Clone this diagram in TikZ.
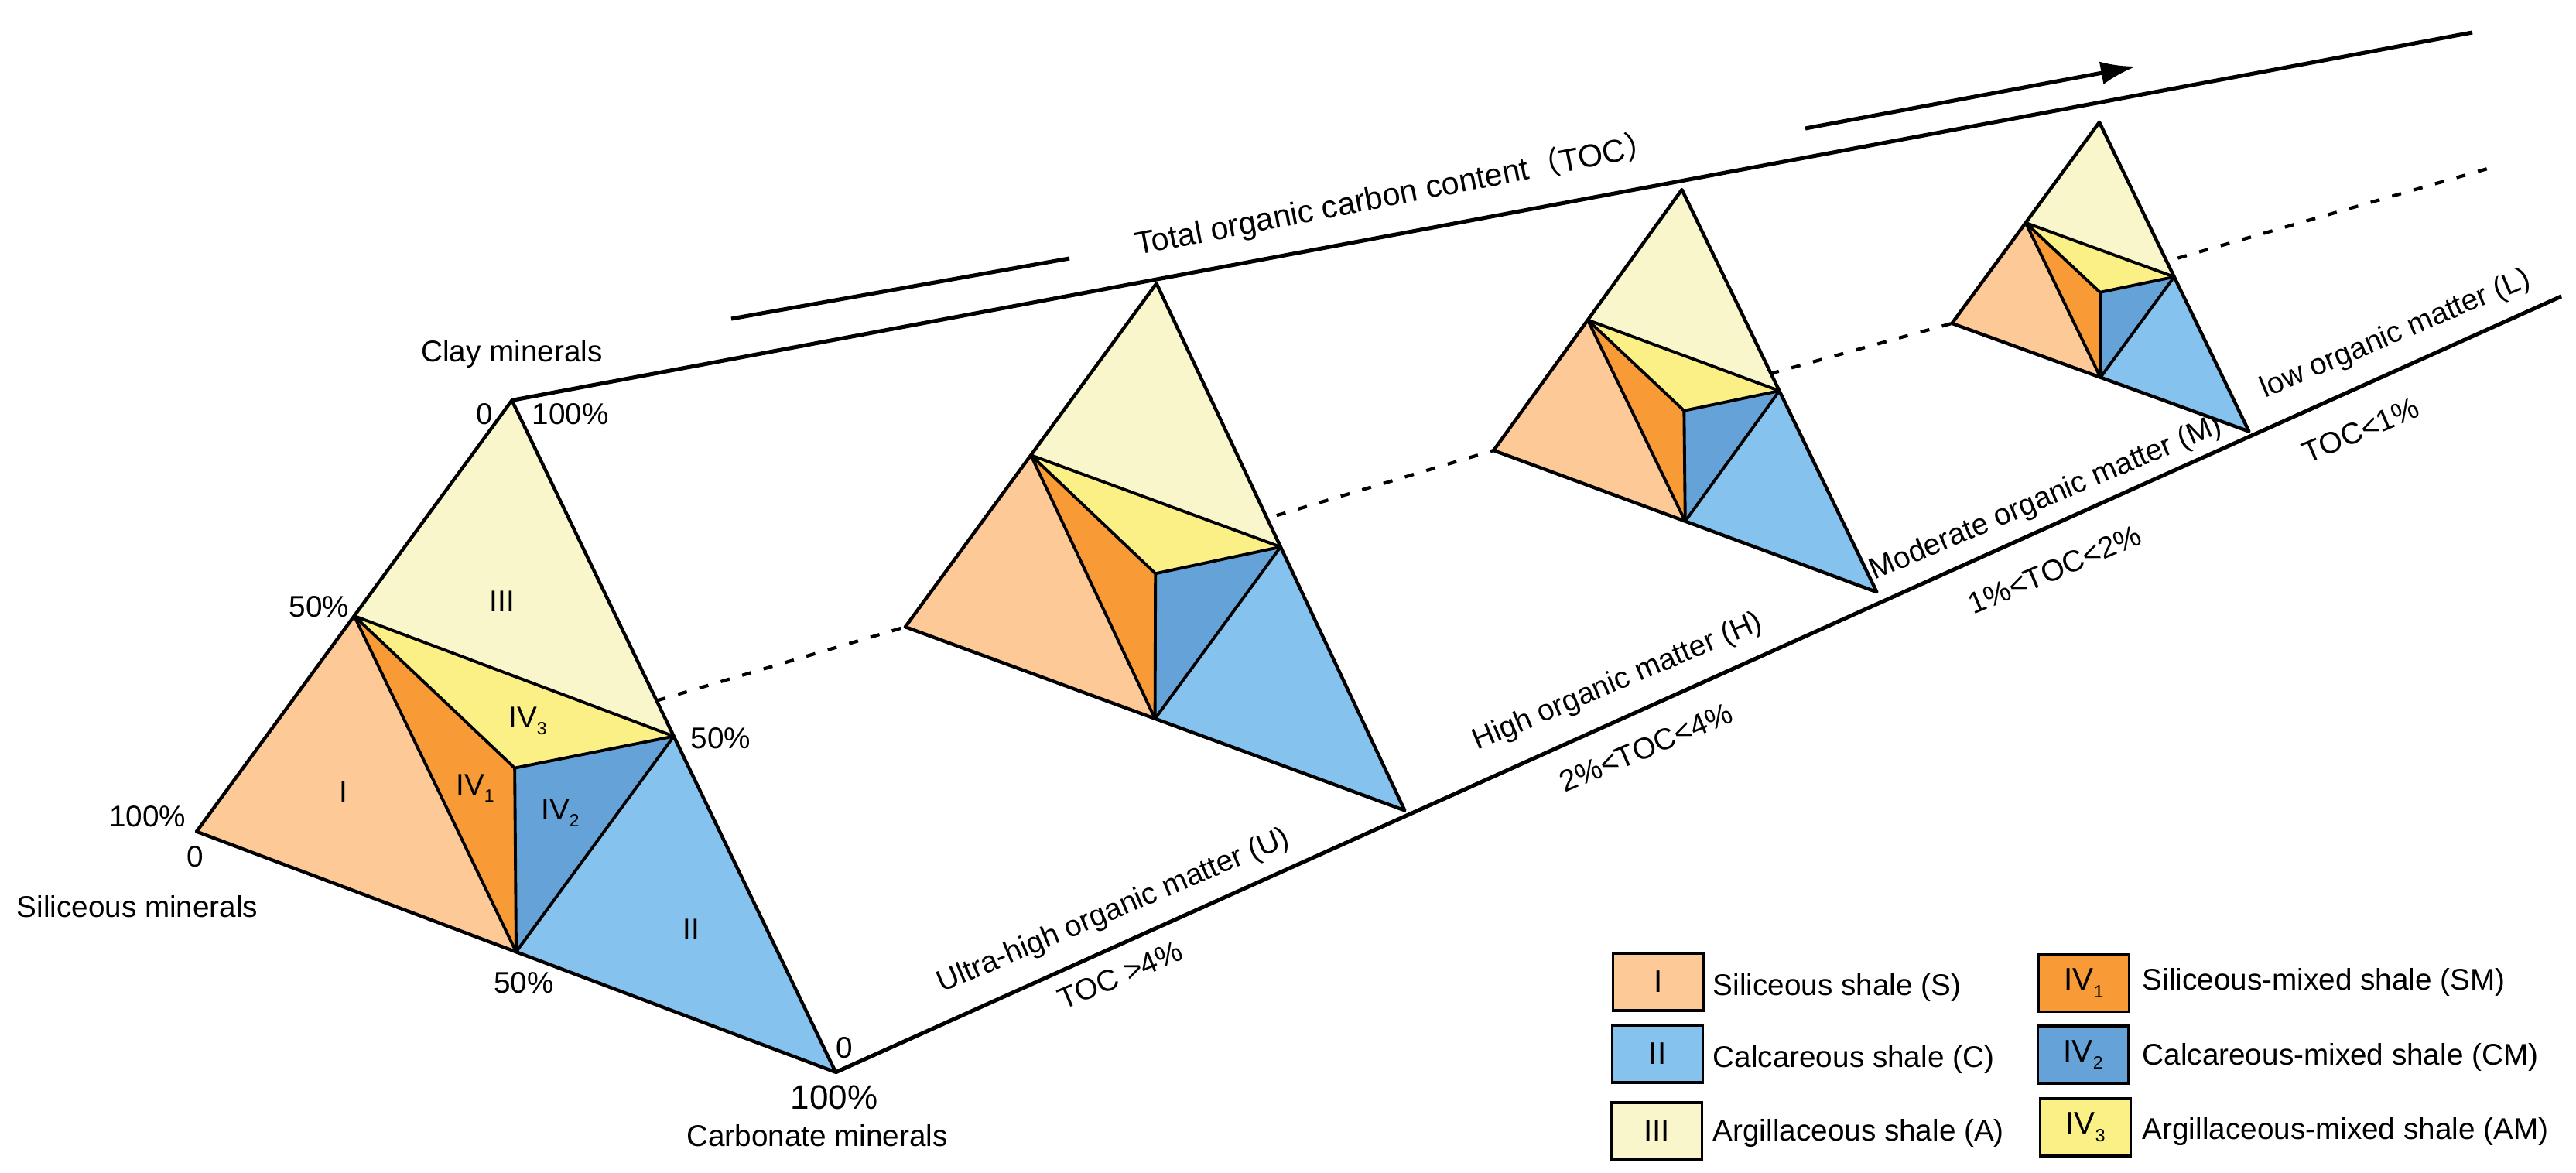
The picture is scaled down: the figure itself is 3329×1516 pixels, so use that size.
\documentclass[tikz,border=0pt]{standalone}
\usepackage{fontspec}
\setmainfont{Liberation Sans}
\newfontfamily\cjk{Noto Sans CJK SC}
\usetikzlibrary{calc,arrows.meta}
\definecolor{cI}{HTML}{FDC996}
\definecolor{cII}{HTML}{85C2EE}
\definecolor{cIII}{HTML}{FAF6CC}
\definecolor{cIVa}{HTML}{F89A36}
\definecolor{cIVb}{HTML}{65A2D7}
\definecolor{cIVc}{HTML}{FAF085}
\newcommand\ivs[1]{IV\raisebox{-0.45ex}{\fontsize{6.5}{7}\selectfont #1}}
\newcommand\shaletri[1]{%
  \coordinate (#1ml) at ($(#1t)!0.5!(#1l)$);
  \coordinate (#1mr) at ($(#1t)!0.5!(#1r)$);
  \coordinate (#1mb) at ($(#1l)!0.5!(#1r)$);
  \coordinate (#1c) at (barycentric cs:#1t=1,#1l=1,#1r=1);
  \fill[cIII] (#1t) -- (#1ml) -- (#1mr) -- cycle;
  \fill[cI] (#1ml) -- (#1l) -- (#1mb) -- cycle;
  \fill[cII] (#1mr) -- (#1mb) -- (#1r) -- cycle;
  \fill[cIVa] (#1ml) -- (#1c) -- (#1mb) -- cycle;
  \fill[cIVb] (#1c) -- (#1mr) -- (#1mb) -- cycle;
  \fill[cIVc] (#1ml) -- (#1mr) -- (#1c) -- cycle;
  \draw[inedge] (#1ml) -- (#1mr) -- (#1mb) -- cycle;
  \draw[inedge] (#1ml) -- (#1c) (#1mr) -- (#1c) (#1mb) -- (#1c);
  \draw[edge] (#1t) -- (#1l) -- (#1r) -- cycle;
}
\begin{document}
\begin{tikzpicture}[x=0.01cm,y=-0.01cm,
  lbl/.style={font=\fontsize{11}{13}\selectfont, inner sep=0pt},
  edge/.style={line width=1.25pt, line join=round},
  inedge/.style={line width=1.1pt, line join=round},
  longline/.style={line width=1.45pt},
  dotl/.style={line width=1.2pt, dash pattern=on 3.4pt off 4.8pt},
  legbox/.style={draw, line width=0.9pt, minimum width=1.17cm, minimum height=0.74cm, inner sep=0pt, font=\fontsize{11.5}{13}\selectfont},
  rlbl/.style={lbl, anchor=base west, rotate=23},
  legtxt/.style={lbl, anchor=base west}]
\useasboundingbox (0,0) rectangle (3329,1516);

% triangle vertices
\coordinate (T1t) at (661.5,517.4);
\coordinate (T1l) at (254,1074.7);
\coordinate (T1r) at (1080,1385.8);
\coordinate (T2t) at (1494.5,366.3);
\coordinate (T2l) at (1169.9,810.2);
\coordinate (T2r) at (1815.3,1047.4);
\coordinate (T3t) at (2173.5,245.1);
\coordinate (T3l) at (1930.2,582.1);
\coordinate (T3r) at (2425.4,765.2);
\coordinate (T4t) at (2713,158);
\coordinate (T4l) at (2522.5,417.9);
\coordinate (T4r) at (2906.4,557.6);

% dotted guide line (behind triangles)
\coordinate (dstart) at ($(T1t)!0.447!(T1r)$);
\coordinate (dend) at (3225,215);
\draw[dotl] (dstart) -- (T2l) -- (T3l) -- (T4l) -- (dend);

\shaletri{T1}
\shaletri{T2}
\shaletri{T3}
\shaletri{T4}

% long lines
\coordinate (topend) at (3195,42);
\coordinate (botend) at (3310,383);
\draw[longline] (T1t) -- (topend);
\draw[longline] (T1r) -- (botend);
\coordinate (sl1) at (945,412);
\coordinate (sl2) at (1382,334);
\draw[longline] (sl1) -- (sl2);
\coordinate (ar1) at (2333,166);
\coordinate (ar2) at (2760,86);
\draw[longline, -{Latex[length=0.45cm,width=0.3cm]}] (ar1) -- (ar2);
\node[lbl, font=\fontsize{11.7}{14}\selectfont, anchor=base west, rotate=11] (toc) at (1470,330) {Total organic carbon content{\cjk （}TOC{\cjk ）}};

% triangle 1 labels
\node[lbl] (clay) at (661.5,458) {Clay minerals};
\node[lbl] (c0) at (626,535) {0};
\node[lbl] (c100) at (737,535) {100\%};
\node[lbl] (l50) at (412.5,784) {50\%};
\node[lbl] (r50) at (931.6,954) {50\%};
\node[lbl] (s100) at (190.8,1055) {100\%};
\node[lbl] (s0) at (252.5,1107) {0};
\node[lbl] (sil) at (177.5,1172) {Siliceous minerals};
\node[lbl] (b50) at (677,1270) {50\%};
\node[lbl] (k0) at (1091,1354) {0};
\node[lbl, font=\fontsize{12.5}{14}\selectfont] (k100) at (1078,1418) {100\%};
\node[lbl] (carb) at (1056,1468) {Carbonate minerals};
\node[lbl] (rIII) at (649,777) {III};
\node[lbl] (rI) at (443.4,1023) {I};
\node[lbl] (rII) at (893,1201) {II};
\node[lbl] (rIV1) at (614,1019) {\ivs{1}};
\node[lbl] (rIV2) at (724,1051) {\ivs{2}};
\node[lbl] (rIV3) at (682,932) {\ivs{3}};

% organic matter labels
\node[rlbl] (lu) at (1217,1283) {Ultra-high organic matter (U)};
\node[rlbl] (tu) at (1374,1306) {TOC >4\%};
\node[rlbl] (lh) at (1909,970) {High organic matter (H)};
\node[rlbl] (th) at (2022,1025) {2\%<TOC<4\%};
\node[rlbl] (lm) at (2422,750) {Moderate organic matter (M)};
\node[rlbl] (tm) at (2550,795) {1\%<TOC<2\%};
\node[rlbl] (ll) at (2927,515) {low organic matter (L)};
\node[rlbl] (tl) at (2982,600) {TOC<1\%};

% legend
\node[legbox, fill=cI] (kI) at (2143,1269) {I};
\node[legbox, fill=cII] (kII) at (2142,1362) {II};
\node[legbox, fill=cIII] (kIII) at (2141,1462) {III};
\node[legbox, fill=cIVa] (kIV1) at (2693,1270.5) {\ivs{1}};
\node[legbox, fill=cIVb] (kIV2) at (2692,1363) {\ivs{2}};
\node[legbox, fill=cIVc] (kIV3) at (2695,1457) {\ivs{3}};
\node[legtxt] (tI) at (2213,1286) {Siliceous shale (S)};
\node[legtxt] (tII) at (2213,1379) {Calcareous shale (C)};
\node[legtxt] (tIII) at (2213,1474) {Argillaceous shale (A)};
\node[legtxt] (tIV1) at (2768,1279) {Siliceous-mixed shale (SM)};
\node[legtxt] (tIV2) at (2768,1376) {Calcareous-mixed shale (CM)};
\node[legtxt] (tIV3) at (2768,1472) {Argillaceous-mixed shale (AM)};
\end{tikzpicture}
\end{document}
